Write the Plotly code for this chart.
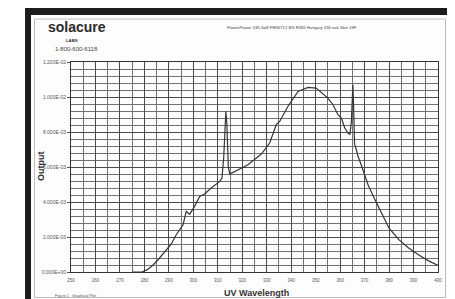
import plotly.graph_objects as go

# ---- data ----
wavelength = [275, 279, 281, 283, 285.6, 287.5, 289.6, 291, 293, 295.8, 297.1, 298.5,
              300.5, 302.6, 304.6, 307.3, 310.8, 311.7, 312.4, 313.0, 313.3, 313.7,
              314.3, 314.9, 316.9, 319.6, 322.3, 323.7, 327.8, 331.2, 333.9, 335.3,
              338.7, 342.8, 346.9, 350.2, 353.7, 355.0, 357.1, 359.1, 360.5, 361.9,
              363.2, 364.0, 364.6, 365.0, 365.2, 365.5, 365.9, 366.6, 367.3, 368.6,
              370.0, 371.4, 374.0, 376.0, 378.0, 380.0, 384.0, 388.0, 392.0, 396.0, 400.0]
output_e3 = [0.0, 0.0, 0.12, 0.33, 0.70, 1.00, 1.37, 1.60, 2.13, 2.70, 3.47, 3.30,
             3.75, 4.32, 4.46, 4.80, 5.18, 5.37, 6.50, 9.00, 9.18, 8.50,
             6.00, 5.60, 5.75, 5.94, 6.13, 6.29, 6.74, 7.37, 8.42, 8.60,
             9.47, 10.32, 10.55, 10.51, 10.13, 9.94, 9.56, 8.99, 8.80, 8.23,
             7.94, 7.85, 8.60, 10.20, 10.70, 9.50, 7.30, 7.00, 6.61, 6.13,
             5.56, 4.99, 4.20, 3.60, 3.10, 2.50, 1.85, 1.37, 0.99, 0.65, 0.38]
output = [v * 1e-3 for v in output_e3]

x_ticks = list(range(250, 401, 10))
y_ticks = [0, 0.002, 0.004, 0.006, 0.008, 0.010, 0.012]
y_ticktext = ["0.000E+00", "2.000E-03", "4.000E-03", "6.000E-03",
              "8.000E-03", "1.000E-02", "1.200E-02"]

W, H = 455, 299
L, R, T, B = 63, 25, 54, 35
PW, PH = W - L - R, H - T - B
FONT = "Liberation Sans, Arial, sans-serif"


def px(x):
    return (x - L) / PW


def py(y):
    return (H - B - y) / PH


fig = go.Figure()
fig.add_trace(go.Scatter(x=wavelength, y=output, mode="lines",
                         line=dict(color="#353535", width=1.2), hoverinfo="skip",
                         showlegend=False))

shapes = [
    dict(type="rect", xref="paper", yref="paper", x0=px(17), x1=px(450), y0=py(299), y1=py(0),
         fillcolor="#1c1c1c", line=dict(width=0), layer="below"),
    dict(type="rect", xref="paper", yref="paper", x0=px(23), x1=px(441), y0=py(293), y1=py(7),
         fillcolor="#fdfdfd", line=dict(width=0), layer="below"),
    dict(type="rect", xref="paper", yref="paper", x0=px(26.5), x1=px(437.5), y0=py(289.5), y1=py(11),
         fillcolor="rgba(0,0,0,0)", line=dict(width=1, color="#bdbdbd"), layer="below"),
]

ann = [
    dict(text="<b>solacure</b>", x=px(38), y=py(29.5), xanchor="left", yanchor="bottom",
         font=dict(size=14, color="#2a2a2a")),
    dict(text="<b>LABS</b>", x=px(64), y=py(32.3), xanchor="center", yanchor="middle",
         font=dict(size=4.3, color="#333")),
    dict(text="1-800-600-6118", x=px(68), y=py(41), xanchor="center", yanchor="middle",
         font=dict(size=6, color="#444")),
    dict(text="FlowerPower 335-5w8 FR66T12 BG R355 Hungary 336 nok Skin 19F", x=px(284), y=py(19.5),
         xanchor="center", yanchor="middle", font=dict(size=4.2, color="#444")),
    dict(text="<b>Output</b>", x=px(33), y=py(158), xanchor="center", yanchor="middle",
         textangle=-90, font=dict(size=9, color="#333")),
    dict(text="<b>UV Wavelength</b>", x=px(248), y=py(285), xanchor="center", yanchor="middle",
         font=dict(size=9, color="#333")),
    dict(text="Figure 1   Graphical Plot", x=px(45), y=py(288), xanchor="left", yanchor="middle",
         font=dict(size=3.8, color="#555")),
]
for a in ann:
    a.update(xref="paper", yref="paper", showarrow=False)

fig.update_layout(
    width=W, height=H,
    margin=dict(l=L, r=R, t=T, b=B, pad=0),
    paper_bgcolor="#ffffff", plot_bgcolor="#fdfdfd",
    font=dict(family=FONT, color="#555"),
    shapes=shapes, annotations=ann, showlegend=False,
    xaxis=dict(range=[250, 400], tickvals=x_ticks, ticktext=[str(v) for v in x_ticks],
               tickfont=dict(size=4.5, color="#555"), showgrid=True, gridcolor="#4a4a4a",
               gridwidth=1, minor=dict(dtick=5, showgrid=True, gridcolor="#707070", gridwidth=1),
               showline=True, linecolor="#333", linewidth=1, mirror=True, zeroline=False,
               ticks="", ticklabelstandoff=4, fixedrange=True),
    yaxis=dict(range=[0, 0.012], tickvals=y_ticks, ticktext=y_ticktext,
               tickfont=dict(size=5, color="#555"), showgrid=True, gridcolor="#4a4a4a",
               gridwidth=1, minor=dict(dtick=0.0004, showgrid=True, gridcolor="#707070", gridwidth=1),
               showline=True, linecolor="#333", linewidth=1, mirror=True, zeroline=False,
               ticks="outside", ticklen=3, tickcolor="#555", fixedrange=True),
)

fig.write_html("out.html", config=dict(displayModeBar=False))
